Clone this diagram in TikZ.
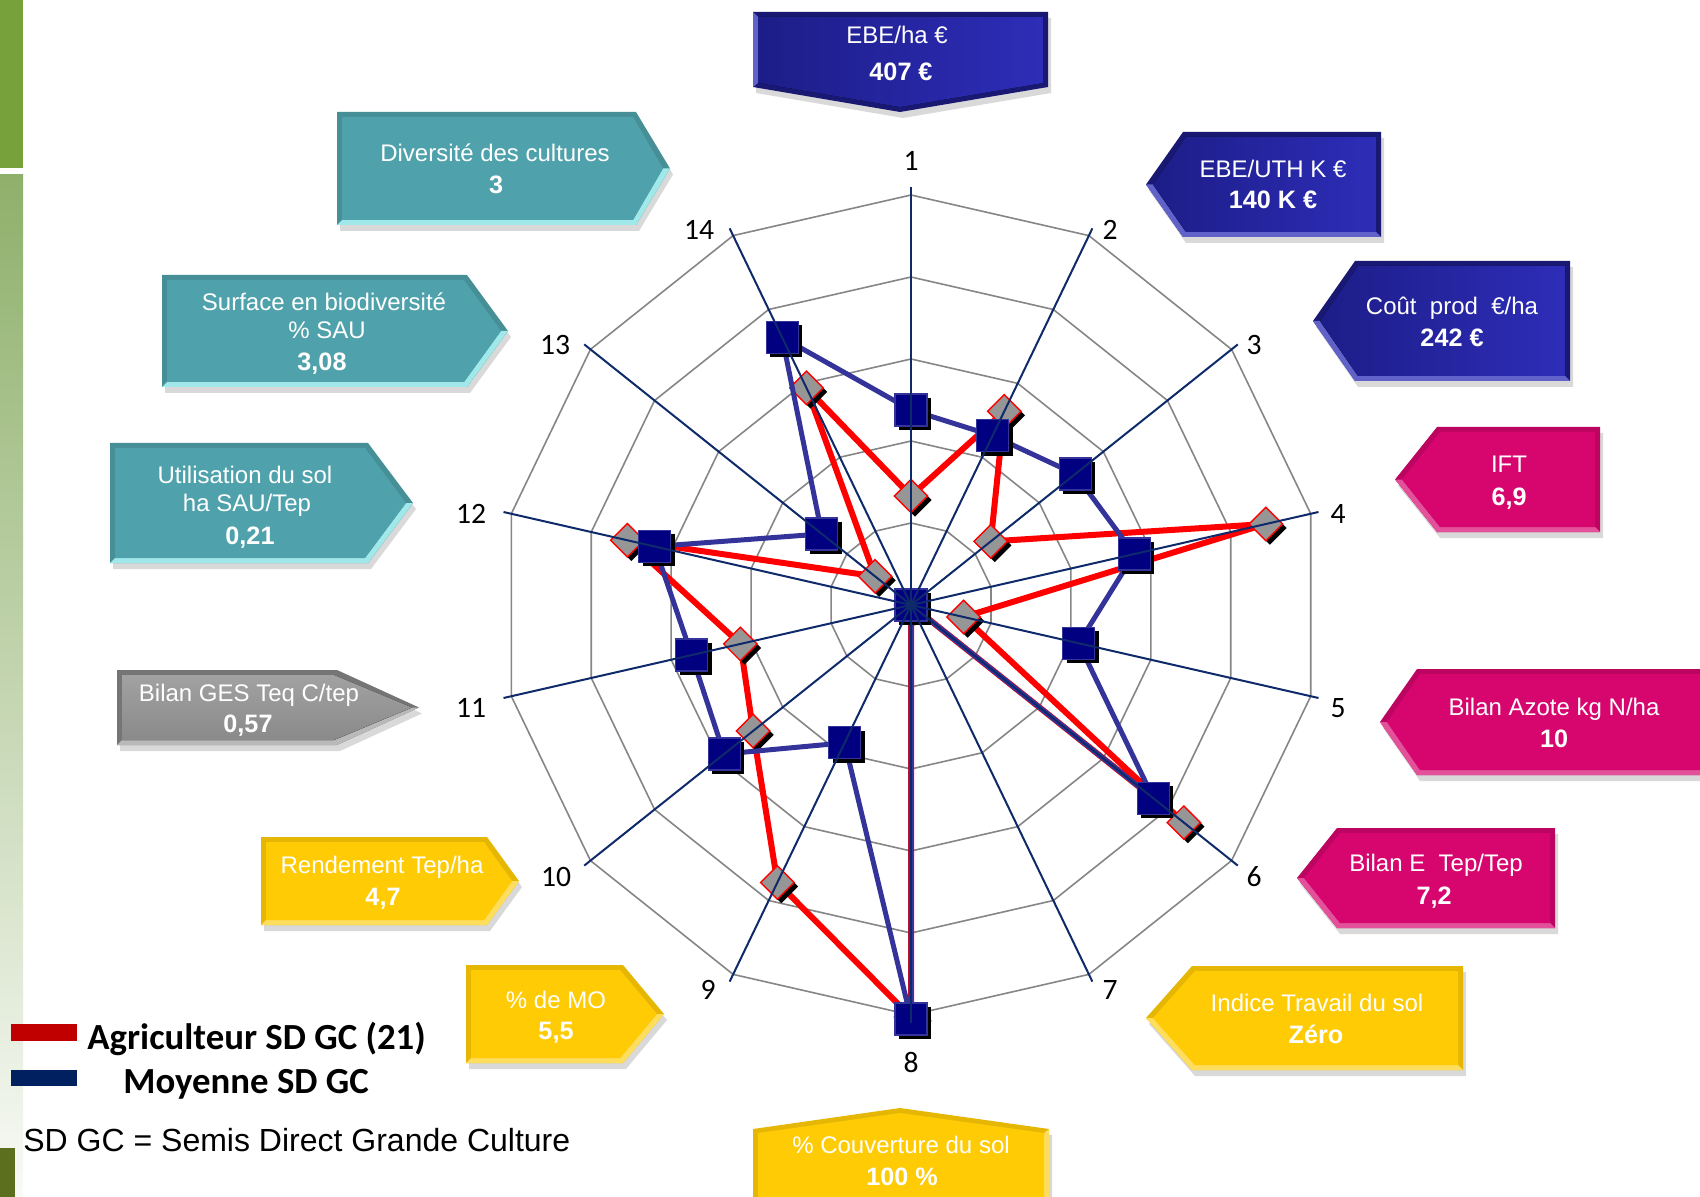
\documentclass[tikz,border=0pt]{standalone}
\usepackage{fontspec}
\setmainfont{Liberation Sans}
\newfontfamily\calibfont{Carlito}
\usetikzlibrary{shapes.geometric, shadows}

\definecolor{spokenavy}{HTML}{0E2A6B}
\definecolor{gridgray}{HTML}{868686}
\definecolor{moyblue}{HTML}{333399}
\definecolor{moynavy}{HTML}{000080}
\definecolor{agrired}{HTML}{FF0000}
\definecolor{agrigray}{HTML}{969696}
\definecolor{legred}{HTML}{C00000}
\definecolor{legblue}{HTML}{002060}
\definecolor{ecobluedark}{HTML}{1D1D88}
\definecolor{ecobluelight}{HTML}{2D2DB8}
\definecolor{envpink}{HTML}{D6066E}
\definecolor{soilyellow}{HTML}{FFCB05}
\definecolor{bioteal}{HTML}{4FA2AB}
\definecolor{gesgray}{HTML}{8A8A8A}
\definecolor{bargreen}{HTML}{77A23B}
\definecolor{barpale}{HTML}{8FB06B}
\definecolor{barolive}{HTML}{5B6F1F}

\tikzset{
  gridring/.style={draw=gridgray, line width=0.8pt, line join=round},
  spoke/.style={draw=spokenavy, line width=1pt},
  axisnum/.style={font=\calibfont\fontsize{14.8}{16}\selectfont, inner sep=0pt},
  agriline/.style={draw=agrired, line width=3pt, line join=round},
  moyline/.style={draw=moyblue, line width=2.5pt, line join=round},
  agrimark/.style={diamond, fill=agrigray, draw=agrired, line width=0.7pt,
    minimum width=17pt, minimum height=17pt, inner sep=0pt,
    drop shadow={shadow xshift=2pt, shadow yshift=-2pt, opacity=1, fill=black}},
  moymark/.style={rectangle, fill=moynavy, draw=moyblue, line width=0.6pt,
    minimum size=16pt, inner sep=0pt,
    drop shadow={shadow xshift=2pt, shadow yshift=-2pt, opacity=1, fill=black}},
  boxlbl/.style={font=\fontsize{12}{14}\selectfont, text=white, inner sep=0pt,
    text height=8.6pt, text depth=0pt},
  boxval/.style={font=\bfseries\fontsize{12.6}{15}\selectfont, text=white, inner sep=0pt,
    text height=9pt, text depth=0pt},
  boxshadow/.style={fill=black, opacity=0.15},
  faceeco/.style={left color=ecobluedark, right color=ecobluelight},
  darkeco/.style={fill=ecobluedark!85!black},
  lighteco/.style={fill=ecobluelight!75!white},
  faceenv/.style={fill=envpink},
  darkenv/.style={fill=envpink!88!black},
  lightenv/.style={fill=envpink!70!white},
  facesoil/.style={fill=soilyellow},
  darksoil/.style={fill=soilyellow!90!black},
  lightsoil/.style={fill=soilyellow!65!white},
  facebio/.style={fill=bioteal},
  darkbio/.style={fill=bioteal!88!black},
  lightbio/.style={fill=bioteal!55!cyan!45!white},
  faceges/.style={top color=gesgray!80!white, bottom color=gesgray},
  darkges/.style={fill=gesgray!85!black},
  lightges/.style={fill=gesgray!60!white},
  legtxt/.style={font=\calibfont\bfseries\fontsize{18.4}{20}\selectfont, inner sep=0pt,
    text height=11.9pt, text depth=0pt}
}

\begin{document}
\begin{tikzpicture}[x=0.5pt, y=-0.5pt]

  \useasboundingbox (0,0) rectangle (1700,1197);
  \fill[white] (0,0) rectangle (1700,1197);

  % Side bar
  \fill[bargreen] (0,0) rectangle (23,168);
  \shade[top color=barpale, middle color=barpale!40!white, bottom color=barpale!6!white]
    (0,175) rectangle (23,1197);
  \fill[barolive] (0,1148) rectangle (15,1197);

  % Callouts pointing right (left-hand column)
  \foreach \xl/\yt/\xr/\yb/\xt/\sty in {
    337/112/636/225/670/bio,
    162/275/467/387/508/bio,
    110/443/368/563/413/bio,
    117/670/337/745/419/ges,
    261/837/487/925/519/soil,
    466/965/623/1063/664/soil}{
    \pgfmathsetmacro{\ym}{(\yt+\yb)/2}
    \fill[boxshadow, shift={(3,6)}] (\xl,\yt) -- (\xr,\yt) -- (\xt,\ym) -- (\xr,\yb) -- (\xl,\yb) -- cycle;
    \fill[dark\sty] (\xl,\yt) -- (\xr,\yt) -- (\xt,\ym) -- (\xr,\yb) -- (\xl,\yb) -- cycle;
    \fill[light\sty] (\xl,\yb) -- (\xr,\yb) -- (\xt,\ym) -- ({\xt-7},\ym) -- ({\xr-3},{\yb-5}) -- ({\xl+5},{\yb-5}) -- cycle;
    \fill[face\sty] ({\xl+5},{\yt+5}) -- ({\xr-3},{\yt+5}) -- ({\xt-7},\ym) -- ({\xr-3},{\yb-5}) -- ({\xl+5},{\yb-5}) -- cycle;
  }

  % Callouts pointing left (right-hand column)
  \foreach \xt/\xl/\yt/\xr/\yb/\sty in {
    1146/1183/132/1381/237/eco,
    1313/1355/261/1570/381/eco,
    1395/1437/427/1600/532/env,
    1380/1417/669/1730/775/env,
    1297/1337/828/1555/928/env,
    1146/1192/966/1463/1070/soil}{
    \pgfmathsetmacro{\ym}{(\yt+\yb)/2}
    \fill[boxshadow, shift={(3,6)}] (\xt,\ym) -- (\xl,\yt) -- (\xr,\yt) -- (\xr,\yb) -- (\xl,\yb) -- cycle;
    \fill[dark\sty] (\xt,\ym) -- (\xl,\yt) -- (\xr,\yt) -- (\xr,\yb) -- (\xl,\yb) -- cycle;
    \fill[light\sty] (\xt,\ym) -- (\xl,\yb) -- (\xr,\yb) -- ({\xr-5},{\yb-5}) -- ({\xl+3},{\yb-5}) -- ({\xt+7},\ym) -- cycle;
    \fill[face\sty] ({\xt+7},\ym) -- ({\xl+3},{\yt+5}) -- ({\xr-5},{\yt+5}) -- ({\xr-5},{\yb-5}) -- ({\xl+3},{\yb-5}) -- cycle;
  }

  % Top callout, points down
  \fill[boxshadow, shift={(3,6)}] (753,12) -- (1048,12) -- (1048,87) -- (900,112) -- (753,87) -- cycle;
  \fill[darkeco] (753,12) -- (1048,12) -- (1048,87) -- (900,112) -- (753,87) -- cycle;
  \fill[lighteco] (753,12) -- (758,17) -- (758,83) -- (753,87) -- cycle;
  \fill[faceeco] (758,17) -- (1043,17) -- (1043,83) -- (900,107) -- (758,83) -- cycle;

  % Bottom callout, points up
  \fill[boxshadow, shift={(3,6)}] (753,1129) -- (900,1108) -- (1049,1129) -- (1049,1215) -- (753,1215) -- cycle;
  \fill[darksoil] (753,1129) -- (900,1108) -- (1049,1129) -- (1049,1215) -- (753,1215) -- cycle;
  \fill[lightsoil] (1049,1129) -- (1049,1215) -- (1044,1215) -- (1044,1133) -- cycle;
  \fill[facesoil] (758,1133) -- (900,1113) -- (1044,1133) -- (1044,1215) -- (758,1215) -- cycle;

  % Callout texts
  \foreach \tx/\ty/\kind/\txt [count=\i] in {
    897/35/boxlbl/{EBE/ha €}, 901/72/boxval/{407 €},
    1273/169/boxlbl/{EBE/UTH K €}, 1273/200/boxval/{140 K €},
    1452/306/boxlbl/{Coût~~prod~~€/ha}, 1452/338/boxval/{242 €},
    1509/464/boxlbl/{IFT}, 1509/496/boxval/{6,9},
    1554/707/boxlbl/{Bilan Azote kg N/ha}, 1554/738/boxval/{10},
    1436/863/boxlbl/{Bilan E~~Tep/Tep}, 1434/895/boxval/{7,2},
    1317/1003/boxlbl/{Indice Travail du sol}, 1316/1034/boxval/{Zéro},
    901/1145/boxlbl/{\% Couverture du sol}, 902/1176/boxval/{100 \%},
    556/1000/boxlbl/{\% de MO}, 556/1030/boxval/{5,5},
    382/865/boxlbl/{Rendement Tep/ha}, 383/896/boxval/{4,7},
    249/693/boxlbl/{Bilan GES Teq C/tep}, 248/723/boxval/{0,57},
    245/475/boxlbl/{Utilisation du sol}, 247/503/boxlbl/{ha SAU/Tep}, 250/535/boxval/{0,21},
    324/302/boxlbl/{Surface en biodiversité}, 327/330/boxlbl/{\% SAU}, 322/362/boxval/{3,08},
    495/153/boxlbl/{Diversité des cultures}, 496/185/boxval/{3}}{
    \node[\kind] (txt-\i) at (\tx,\ty) {\txt};
  }

  % Radar chart
  \begin{scope}[shift={(911,605)}]
    \coordinate (ctr) at (0,0);
    \foreach \ring in {1,...,5}{
      \draw[gridring] (-90:{82*\ring}) \foreach \k in {1,...,13}{ -- ({-90+\k*360/14}:{82*\ring}) } -- cycle;
    }
    \foreach \r [count=\k] in {109,215,102,364,54,349,0,412,308,202,175,291,46,241}
      \coordinate (agri-\k) at ({-90+(\k-1)*360/14}:\r);
    \foreach \r [count=\k] in {195,188,210,229,172,310,0,414,153,239,225,263,114,297}
      \coordinate (moy-\k) at ({-90+(\k-1)*360/14}:\r);
    % Agriculteur series
    \draw[agriline] (agri-1) \foreach \k in {2,...,14}{ -- (agri-\k) } -- cycle;
    \foreach \k in {1,...,14}
      \node[agrimark] (agrimk-\k) at (agri-\k) {};
    % Moyenne series
    \draw[moyline] (moy-1) \foreach \k in {2,...,14}{ -- (moy-\k) } -- cycle;
    \foreach \k in {1,...,14}
      \node[moymark] (moymk-\k) at (moy-\k) {};
    % spokes on top
    \foreach \k in {1,...,14}{
      \coordinate (tip-\k) at ({-90+(\k-1)*360/14}:418);
      \draw[spoke] (ctr) -- (tip-\k);
    }
  \end{scope}

  % Axis numbers
  \foreach \k/\lx/\ly in {1/911/161, 2/1110/230, 3/1254/345, 4/1338/514, 5/1338/708,
    6/1254/877, 7/1110/990, 8/911/1062, 9/708/990, 10/556/877, 11/471/708,
    12/471/514, 13/555/345, 14/699/230}
    \node[axisnum] (num-\k) at (\lx,\ly) {\k};

  % Legend
  \fill[legred] (11,1024) rectangle (77,1041);
  \fill[legblue] (11,1070) rectangle (77,1086);
  \node[legtxt, anchor=west] (leg-agri) at (87,1038) {Agriculteur SD GC (21)};
  \node[legtxt, anchor=west] (leg-moy) at (123,1082) {Moyenne SD GC};
  \node[font=\fontsize{16}{18}\selectfont, inner sep=0pt, text height=11.5pt, text depth=0pt,
    anchor=west] (leg-sdgc) at (23,1140) {SD GC = Semis Direct Grande Culture};

\end{tikzpicture}
\end{document}
